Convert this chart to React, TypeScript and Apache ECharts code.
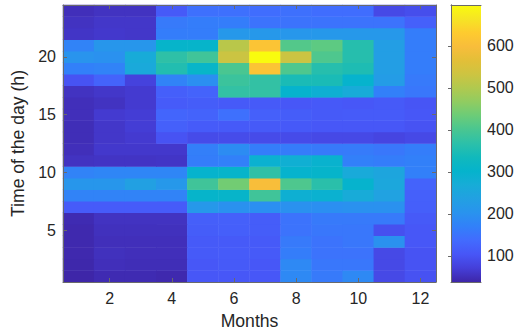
import React, { useEffect, useRef } from 'react';
import * as echarts from 'echarts';

// Categories
const months = ['1', '2', '3', '4', '5', '6', '7', '8', '9', '10', '11', '12'];
const hours = Array.from({ length: 24 }, (_, i) => String(i + 1));

// Tick labels shown
const monthTicks = ['2', '4', '6', '8', '10', '12'];
const hourTicks = ['5', '10', '15', '20'];

// Values per hour (row), months 1..12 (columns)
const hour01 = [38, 45, 45, 42, 105, 105, 105, 185, 160, 185, 85, 98];
const hour02 = [40, 50, 48, 48, 105, 110, 105, 185, 155, 155, 85, 100];
const hour03 = [42, 52, 50, 50, 110, 112, 110, 165, 150, 150, 85, 100];
const hour04 = [42, 50, 50, 50, 110, 110, 110, 160, 150, 155, 200, 105];
const hour05 = [42, 52, 52, 52, 115, 118, 115, 150, 155, 155, 95, 105];
const hour06 = [45, 55, 55, 55, 118, 120, 115, 150, 160, 160, 160, 110];
const hour07 = [112, 112, 112, 112, 215, 200, 195, 200, 195, 200, 200, 118];
const hour08 = [175, 175, 175, 175, 305, 308, 390, 285, 290, 265, 240, 120];
const hour09 = [210, 210, 235, 215, 390, 440, 600, 405, 365, 300, 255, 125];
const hour10 = [175, 180, 180, 180, 300, 305, 370, 300, 305, 262, 250, 170];
const hour11 = [55, 57, 57, 58, 165, 170, 290, 282, 295, 170, 165, 170];
const hour12 = [50, 62, 62, 62, 168, 190, 165, 163, 160, 162, 155, 165];
const hour13 = [48, 60, 65, 100, 88, 90, 88, 88, 85, 85, 80, 85];
const hour14 = [48, 60, 68, 120, 112, 110, 110, 108, 105, 105, 105, 100];
const hour15 = [50, 65, 68, 128, 125, 145, 120, 115, 110, 112, 112, 105];
const hour16 = [50, 55, 65, 112, 115, 110, 110, 105, 108, 105, 110, 102];
const hour17 = [55, 60, 65, 118, 125, 375, 375, 300, 285, 265, 170, 155];
const hour18 = [100, 125, 75, 175, 195, 385, 375, 345, 345, 300, 225, 160];
const hour19 = [170, 175, 260, 355, 310, 400, 615, 405, 360, 350, 230, 165];
const hour20 = [205, 200, 265, 370, 390, 530, 697, 530, 405, 360, 230, 165];
const hour21 = [175, 210, 210, 305, 305, 510, 615, 410, 420, 360, 230, 165];
const hour22 = [58, 62, 60, 165, 165, 215, 215, 212, 215, 215, 215, 165];
const hour23 = [55, 60, 60, 160, 165, 165, 150, 150, 150, 150, 150, 120];
const hour24 = [50, 55, 55, 110, 145, 145, 140, 145, 140, 140, 85, 92];

const valuesByHour = [
  hour01, hour02, hour03, hour04, hour05, hour06, hour07, hour08,
  hour09, hour10, hour11, hour12, hour13, hour14, hour15, hour16,
  hour17, hour18, hour19, hour20, hour21, hour22, hour23, hour24,
];

// Parula-like colormap
const parula = [
  '#3E26A8', '#453FD9', '#4756F7', '#426BFE', '#3280F9', '#2993EE', '#22A0E2',
  '#17ACD7', '#05B3CC', '#11B9BC', '#2CC0A9', '#49C691', '#6BCC78', '#90CC61',
  '#B0C94F', '#CDC441', '#E3BF38', '#F8BD3B', '#FECB2F', '#F6E524', '#F9FB0E',
];

export default function App() {
  const ref = useRef<HTMLDivElement>(null);
  useEffect(() => {
    const chart = echarts.init(ref.current!, null, { renderer: 'svg' });
    const data: number[][] = [];
    valuesByHour.forEach((row, h) => row.forEach((v, m) => data.push([m, h, v])));
    const all = valuesByHour.flat();
    const vMin = Math.min(...all);
    const vMax = Math.max(...all);
    const font = "'Liberation Sans', Arial, sans-serif";
    const textColor = '#262626';
    const lineColor = '#6a6a6a';
    const monthFn = (_i: number, v: string) => monthTicks.includes(v);
    const hourFn = (_i: number, v: string) => hourTicks.includes(v);
    const stops = parula.map((c, i) => ({ offset: i / (parula.length - 1), color: c }));

    const boxLine = { show: true, lineStyle: { color: lineColor, width: 1 } };

    chart.setOption({
      animation: false,
      backgroundColor: '#ffffff',
      textStyle: { fontFamily: font },
      grid: [
        { left: 63, top: 5, width: 373, height: 277 },
        { left: 451, top: 5, width: 30, height: 277 },
      ],
      visualMap: {
        type: 'continuous',
        show: false,
        seriesIndex: 0,
        dimension: 2,
        min: vMin,
        max: vMax,
        inRange: { color: parula },
      },
      xAxis: [
        {
          type: 'category', gridIndex: 0, data: months, position: 'bottom', z: 5,
          axisLine: boxLine,
          axisTick: { show: true, inside: true, length: 4, alignWithLabel: true, interval: monthFn, lineStyle: { color: lineColor } },
          axisLabel: { interval: monthFn, color: textColor, fontSize: 16, margin: 8, fontFamily: font },
          splitLine: { show: false },
          name: 'Months', nameLocation: 'middle', nameGap: 30,
          nameTextStyle: { fontSize: 17.6, color: textColor, fontFamily: font },
        },
        {
          type: 'category', gridIndex: 0, data: months, position: 'top', z: 5,
          axisLine: boxLine,
          axisTick: { show: true, inside: true, length: 4, alignWithLabel: true, interval: monthFn, lineStyle: { color: lineColor } },
          axisLabel: { show: false },
          splitLine: { show: false },
        },
        {
          type: 'value', gridIndex: 1, min: 0, max: 1, position: 'bottom', z: 5,
          axisLine: boxLine, axisTick: { show: false }, axisLabel: { show: false }, splitLine: { show: false },
        },
        {
          type: 'value', gridIndex: 1, min: 0, max: 1, position: 'top', z: 5,
          axisLine: boxLine, axisTick: { show: false }, axisLabel: { show: false }, splitLine: { show: false },
        },
      ],
      yAxis: [
        {
          type: 'category', gridIndex: 0, data: hours, position: 'left', z: 5,
          axisLine: boxLine,
          axisTick: { show: true, inside: true, length: 4, alignWithLabel: true, interval: hourFn, lineStyle: { color: lineColor } },
          axisLabel: { interval: hourFn, color: textColor, fontSize: 16, margin: 7, fontFamily: font },
          splitLine: { show: false },
          name: 'Time of the day (h)', nameLocation: 'middle', nameGap: 30, nameRotate: 90,
          nameTextStyle: { fontSize: 17.6, color: textColor, fontFamily: font },
        },
        {
          type: 'category', gridIndex: 0, data: hours, position: 'right', z: 5,
          axisLine: boxLine,
          axisTick: { show: true, inside: true, length: 4, alignWithLabel: true, interval: hourFn, lineStyle: { color: lineColor } },
          axisLabel: { show: false },
          splitLine: { show: false },
        },
        {
          type: 'value', gridIndex: 1, min: vMin, max: vMax, position: 'right', z: 5,
          axisLine: boxLine,
          axisTick: { show: true, inside: true, length: 3, lineStyle: { color: lineColor } },
          axisLabel: { color: textColor, fontSize: 16, margin: 6, showMinLabel: false, showMaxLabel: false, fontFamily: font },
          splitLine: { show: false },
        },
        {
          type: 'value', gridIndex: 1, min: vMin, max: vMax, position: 'left', z: 5,
          axisLine: boxLine, axisTick: { show: false }, axisLabel: { show: false }, splitLine: { show: false },
        },
      ],
      series: [
        {
          type: 'heatmap',
          xAxisIndex: 0,
          yAxisIndex: 0,
          data,
          itemStyle: { borderWidth: 0 },
          emphasis: { disabled: true },
        },
        {
          type: 'custom',
          xAxisIndex: 2,
          yAxisIndex: 2,
          data: [[0, vMin]],
          renderItem: (_params: any, api: any) => {
            const p0 = api.coord([0, vMin]);
            const p1 = api.coord([1, vMax]);
            return {
              type: 'rect',
              shape: { x: p0[0], y: p1[1], width: p1[0] - p0[0], height: p0[1] - p1[1] },
              style: { fill: new echarts.graphic.LinearGradient(0, 1, 0, 0, stops) },
            };
          },
        },
      ],
    });
    return () => chart.dispose();
  }, []);
  return (
    <div
      ref={ref}
      style={{ position: 'fixed', left: 0, top: 0, width: 522, height: 335, background: '#fff' }}
    />
  );
}
